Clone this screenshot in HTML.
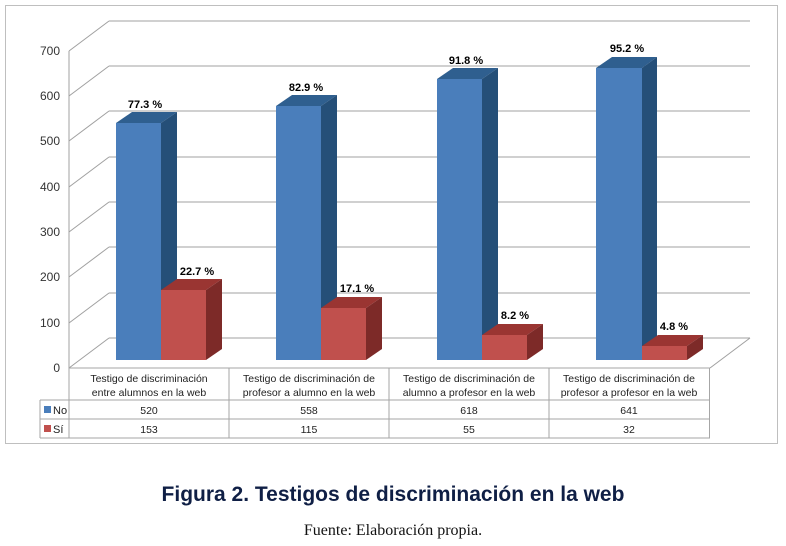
<!DOCTYPE html>
<html><head><meta charset="utf-8"><style>
body{margin:0;background:#fff;width:786px;height:546px;overflow:hidden}
svg{display:block}
text{font-family:"Liberation Sans",sans-serif}
</style></head><body>
<svg width="786" height="546" viewBox="0 0 786 546">
<rect x="5.5" y="5.5" width="772" height="438" fill="#fff" stroke="#bfbfbf"/>
<g stroke="#a0a0a0" stroke-width="1" fill="none">
<line x1="69" y1="51" x2="69" y2="368"/>
<line x1="109" y1="21" x2="750" y2="21"/>
<line x1="109" y1="66" x2="750" y2="66"/>
<line x1="109" y1="111" x2="750" y2="111"/>
<line x1="109" y1="157" x2="750" y2="157"/>
<line x1="109" y1="202" x2="750" y2="202"/>
<line x1="109" y1="247" x2="750" y2="247"/>
<line x1="109" y1="293" x2="750" y2="293"/>
<line x1="109" y1="338" x2="750" y2="338"/>
<line x1="69" y1="51" x2="109" y2="21"/>
<line x1="69" y1="96" x2="109" y2="66"/>
<line x1="69" y1="141" x2="109" y2="111"/>
<line x1="69" y1="187" x2="109" y2="157"/>
<line x1="69" y1="232" x2="109" y2="202"/>
<line x1="69" y1="277" x2="109" y2="247"/>
<line x1="69" y1="323" x2="109" y2="293"/>
<line x1="69" y1="368" x2="109" y2="338"/>
<line x1="710" y1="368" x2="750" y2="338"/>
</g>
<g font-size="12" fill="#333" text-anchor="end">
<text x="60" y="55">700</text><text x="60" y="100">600</text><text x="60" y="145">500</text>
<text x="60" y="191">400</text><text x="60" y="236">300</text><text x="60" y="281">200</text>
<text x="60" y="327">100</text><text x="60" y="372">0</text>
</g>
<g id="bars">
<!-- bar generator, manually -->
</g>
<g>
<!-- group 1 -->
<polygon points="116,123 132,112 177,112 161,123" fill="#2f5f8f"/><polygon points="161,123 177,112 177,349 161,360" fill="#254f78"/><rect x="116" y="123" width="45" height="237" fill="#4a7ebb"/>
<polygon points="161,290 177,279 222,279 206,290" fill="#9a3532"/><polygon points="206,290 222,279 222,349 206,360" fill="#7d2a28"/><rect x="161" y="290" width="45" height="70" fill="#c0504d"/>
<!-- group 2 -->
<polygon points="276,106 292,95 337,95 321,106" fill="#2f5f8f"/><polygon points="321,106 337,95 337,349 321,360" fill="#254f78"/><rect x="276" y="106" width="45" height="254" fill="#4a7ebb"/>
<polygon points="321,308 337,297 382,297 366,308" fill="#9a3532"/><polygon points="366,308 382,297 382,349 366,360" fill="#7d2a28"/><rect x="321" y="308" width="45" height="52" fill="#c0504d"/>
<!-- group 3 -->
<polygon points="437,79 453,68 498,68 482,79" fill="#2f5f8f"/><polygon points="482,79 498,68 498,349 482,360" fill="#254f78"/><rect x="437" y="79" width="45" height="281" fill="#4a7ebb"/>
<polygon points="482,335 498,324 543,324 527,335" fill="#9a3532"/><polygon points="527,335 543,324 543,349 527,360" fill="#7d2a28"/><rect x="482" y="335" width="45" height="25" fill="#c0504d"/>
<!-- group 4 -->
<polygon points="596,68 612,57 657,57 642,68" fill="#2f5f8f"/><polygon points="642,68 657,57 657,349 642,360" fill="#254f78"/><rect x="596" y="68" width="46" height="292" fill="#4a7ebb"/>
<polygon points="642,346 658,335 703,335 687,346" fill="#9a3532"/><polygon points="687,346 703,335 703,349 687,360" fill="#7d2a28"/><rect x="642" y="346" width="45" height="14" fill="#c0504d"/>
</g>
<g font-size="11" font-weight="bold" fill="#000" text-anchor="middle">
<text x="145" y="108">77.3 %</text><text x="197" y="275">22.7 %</text>
<text x="306" y="91">82.9 %</text><text x="357" y="292">17.1 %</text>
<text x="466" y="64">91.8 %</text><text x="515" y="319">8.2 %</text>
<text x="627" y="52">95.2 %</text><text x="674" y="330">4.8 %</text>
</g>
<g stroke="#a6a6a6" fill="none">
<line x1="69" y1="368" x2="710" y2="368"/>
<line x1="69" y1="368" x2="69" y2="438"/>
<line x1="229" y1="368" x2="229" y2="438"/>
<line x1="389" y1="368" x2="389" y2="438"/>
<line x1="549" y1="368" x2="549" y2="438"/>
<line x1="709.5" y1="368" x2="709.5" y2="438"/>
<line x1="40" y1="400" x2="710" y2="400"/>
<line x1="40" y1="419" x2="710" y2="419"/>
<line x1="40" y1="438" x2="710" y2="438"/>
<line x1="40" y1="400" x2="40" y2="438"/>
</g>
<g font-size="10.5" fill="#222" text-anchor="middle">
<text x="149" y="382">Testigo de discriminación</text><text x="149" y="396">entre alumnos en la web</text>
<text x="309" y="382">Testigo  de discriminación de</text><text x="309" y="396">profesor a alumno en la web</text>
<text x="469" y="382">Testigo de discriminación de</text><text x="469" y="396">alumno a profesor en la web</text>
<text x="629" y="382">Testigo de discriminación de</text><text x="629" y="396">profesor a profesor en la web</text>
<text x="149" y="414">520</text><text x="309" y="414">558</text><text x="469" y="414">618</text><text x="629" y="414">641</text>
<text x="149" y="433">153</text><text x="309" y="433">115</text><text x="469" y="433">55</text><text x="629" y="433">32</text>
</g>
<rect x="44" y="406" width="7" height="7" fill="#4a7ebb"/>
<rect x="44" y="425" width="7" height="7" fill="#c0504d"/>
<text x="53" y="414" font-size="11" fill="#222">No</text>
<text x="53" y="433" font-size="11" fill="#222">Sí</text>
<text x="393" y="501" font-size="21" font-weight="bold" fill="#0f1f45" text-anchor="middle">Figura 2. Testigos de discriminación en la web</text>
<text x="393" y="535" font-size="16" fill="#111" text-anchor="middle" style="font-family:'Liberation Serif',serif">Fuente: Elaboración propia.</text>
</svg>
</body></html>
